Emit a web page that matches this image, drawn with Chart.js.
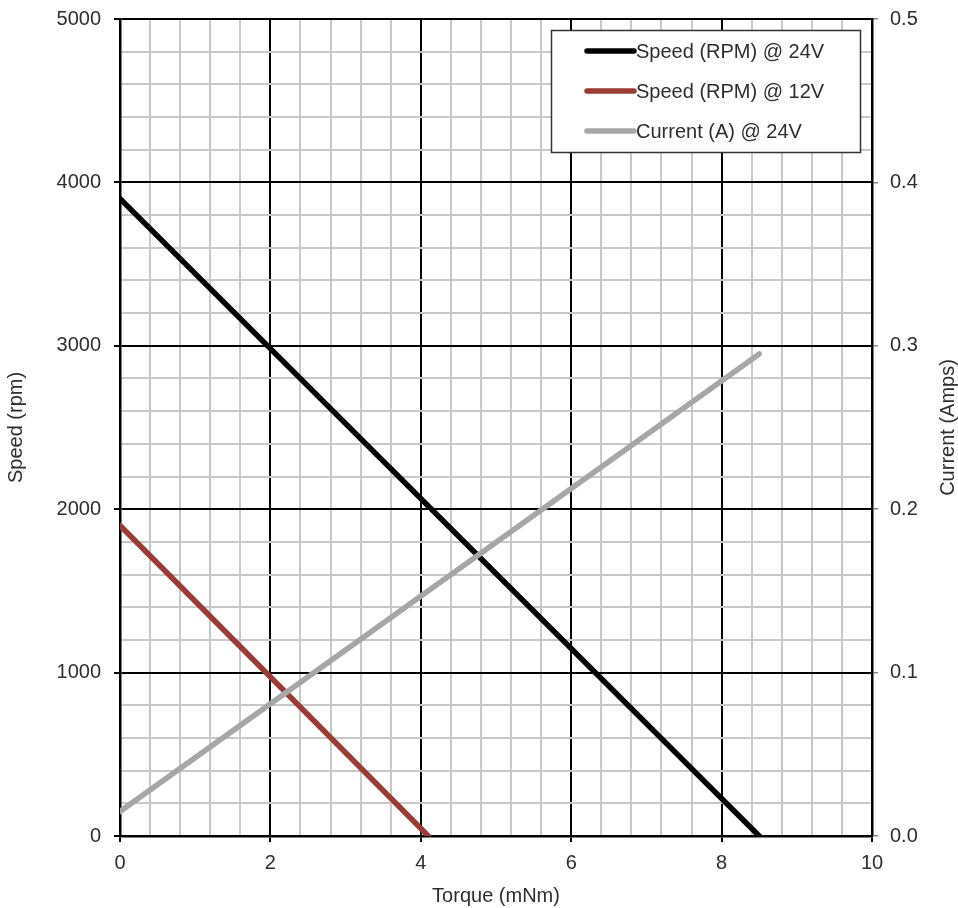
<!DOCTYPE html>
<html>
<head>
<meta charset="utf-8">
<script src="https://cdn.jsdelivr.net/npm/chart.js@4"></script>
<style>
html,body{margin:0;padding:0;background:#fff;}
#wrap{width:958px;height:908px;position:relative;}
</style>
</head>
<body>
<div id="wrap"><canvas id="c"></canvas></div>
<script>
const seriesLabels = ["Speed (RPM) @ 24V", "Speed (RPM) @ 12V", "Current (A) @ 24V"];
const seriesColors = ["#000000", "#9a3b36", "#a6a6a6"];
const torque24 = [0, 8.5];
const speed24 = [3900, 0];
const torque12 = [0, 4.1];
const speed12 = [1900, 0];
const torqueCur = [0, 8.5];
const current24 = [0.015, 0.295];
const xTickLabels = ["0", "2", "4", "6", "8", "10"];
const yLeftTickLabels = ["0", "1000", "2000", "3000", "4000", "5000"];
const yRightTickLabels = ["0.0", "0.1", "0.2", "0.3", "0.4", "0.5"];
const rightTitle = "Current (Amps)";

const FONT = "'Liberation Sans', Arial, sans-serif";
const TEXT = '#2e2e2e';
const pts = (xs, ys) => xs.map((x, i) => ({x: x, y: ys[i]}));
const near = (v, step) => Math.abs(v / step - Math.round(v / step)) < 1e-6;
const noPad = (s) => { s.paddingTop = 0; s.paddingBottom = 0; s.paddingLeft = 0; s.paddingRight = 0; };

const legendPlugin = {
  id: 'boxLegend',
  afterDraw(chart) {
    const ctx = chart.ctx;
    const bx = 551.5, by = 30.5, bw = 309, bh = 122;
    ctx.save();
    ctx.fillStyle = '#fff';
    ctx.fillRect(bx, by, bw, bh);
    ctx.strokeStyle = '#333';
    ctx.lineWidth = 1.5;
    ctx.strokeRect(bx, by, bw, bh);
    ctx.font = "20px " + FONT;
    ctx.textBaseline = 'middle';
    ctx.textAlign = 'left';
    const rows = [51, 91, 131];
    seriesLabels.forEach((lab, i) => {
      ctx.strokeStyle = seriesColors[i];
      ctx.lineWidth = 5.5;
      ctx.lineCap = 'round';
      ctx.beginPath();
      ctx.moveTo(587, rows[i]);
      ctx.lineTo(634, rows[i]);
      ctx.stroke();
      ctx.fillStyle = TEXT;
      ctx.fillText(lab, 636, rows[i] + 1);
    });
    // right axis title, reading bottom to top
    const s = chart.scales.y2;
    ctx.translate(948, (s.top + s.bottom) / 2);
    ctx.rotate(-Math.PI / 2);
    ctx.textAlign = 'center';
    ctx.fillText(rightTitle, 0, 0);
    ctx.restore();
  }
};

new Chart(document.getElementById('c'), {
  type: 'line',
  data: {
    datasets: [
      {label: seriesLabels[0], data: pts(torque24, speed24), borderColor: seriesColors[0], yAxisID: 'y', order: 2},
      {label: seriesLabels[1], data: pts(torque12, speed12), borderColor: seriesColors[1], yAxisID: 'y', order: 1},
      {label: seriesLabels[2], data: pts(torqueCur, current24), borderColor: seriesColors[2], yAxisID: 'y2', order: 0}
    ]
  },
  options: {
    responsive: true,
    maintainAspectRatio: false,
    animation: false,
    devicePixelRatio: 1,
    layout: {padding: {top: 19, left: 0, right: 0, bottom: 0}},
    elements: {
      line: {borderWidth: 5.5, borderCapStyle: 'round', tension: 0, fill: false},
      point: {radius: 0}
    },
    plugins: {legend: {display: false}, tooltip: {enabled: false}},
    scales: {
      x: {
        type: 'linear', min: 0, max: 10,
        afterFit(s) { s.height = 72; noPad(s); },
        ticks: {
          stepSize: 0.4, autoSkip: false, maxRotation: 0, padding: 9,
          color: TEXT, font: {family: FONT, size: 20},
          callback: (v) => near(v, 2) ? xTickLabels[Math.round(v / 2)] : ''
        },
        grid: {
          color: (c) => near(c.tick.value, 2) ? '#000' : '#c8c8c8',
          tickColor: (c) => near(c.tick.value, 2) ? '#000' : 'rgba(0,0,0,0)',
          lineWidth: 2, tickLength: 6
        },
        border: {color: '#000', width: 2.5},
        title: {display: true, text: 'Torque (mNm)', color: TEXT, font: {family: FONT, size: 20}, padding: {top: 4, bottom: 0}}
      },
      y: {
        type: 'linear', position: 'left', min: 0, max: 5000,
        afterFit(s) { s.width = 120; noPad(s); },
        ticks: {
          stepSize: 200, autoSkip: false, padding: 13,
          color: TEXT, font: {family: FONT, size: 20},
          callback: (v) => near(v, 1000) ? yLeftTickLabels[Math.round(v / 1000)] : ''
        },
        grid: {
          color: (c) => near(c.tick.value, 1000) ? '#000' : '#c8c8c8',
          tickColor: (c) => near(c.tick.value, 1000) ? '#000' : 'rgba(0,0,0,0)',
          lineWidth: 2, tickLength: 6
        },
        border: {color: '#000', width: 2.5},
        title: {display: true, text: 'Speed (rpm)', color: TEXT, font: {family: FONT, size: 20}, padding: {top: 4, bottom: 0}}
      },
      y2: {
        type: 'linear', position: 'right', min: 0, max: 0.5,
        afterFit(s) { s.width = 86; noPad(s); },
        ticks: {
          stepSize: 0.02, autoSkip: false, padding: 12,
          color: TEXT, font: {family: FONT, size: 20},
          callback: (v) => near(v, 0.1) ? yRightTickLabels[Math.round(v / 0.1)] : ''
        },
        grid: {
          drawOnChartArea: false,
          tickColor: (c) => near(c.tick.value, 0.1) ? '#888' : 'rgba(0,0,0,0)',
          lineWidth: 1.5, tickLength: 6
        },
        border: {color: '#000', width: 2.5},
        title: {display: false}
      }
    }
  },
  plugins: [legendPlugin]
});
</script>
</body>
</html>
